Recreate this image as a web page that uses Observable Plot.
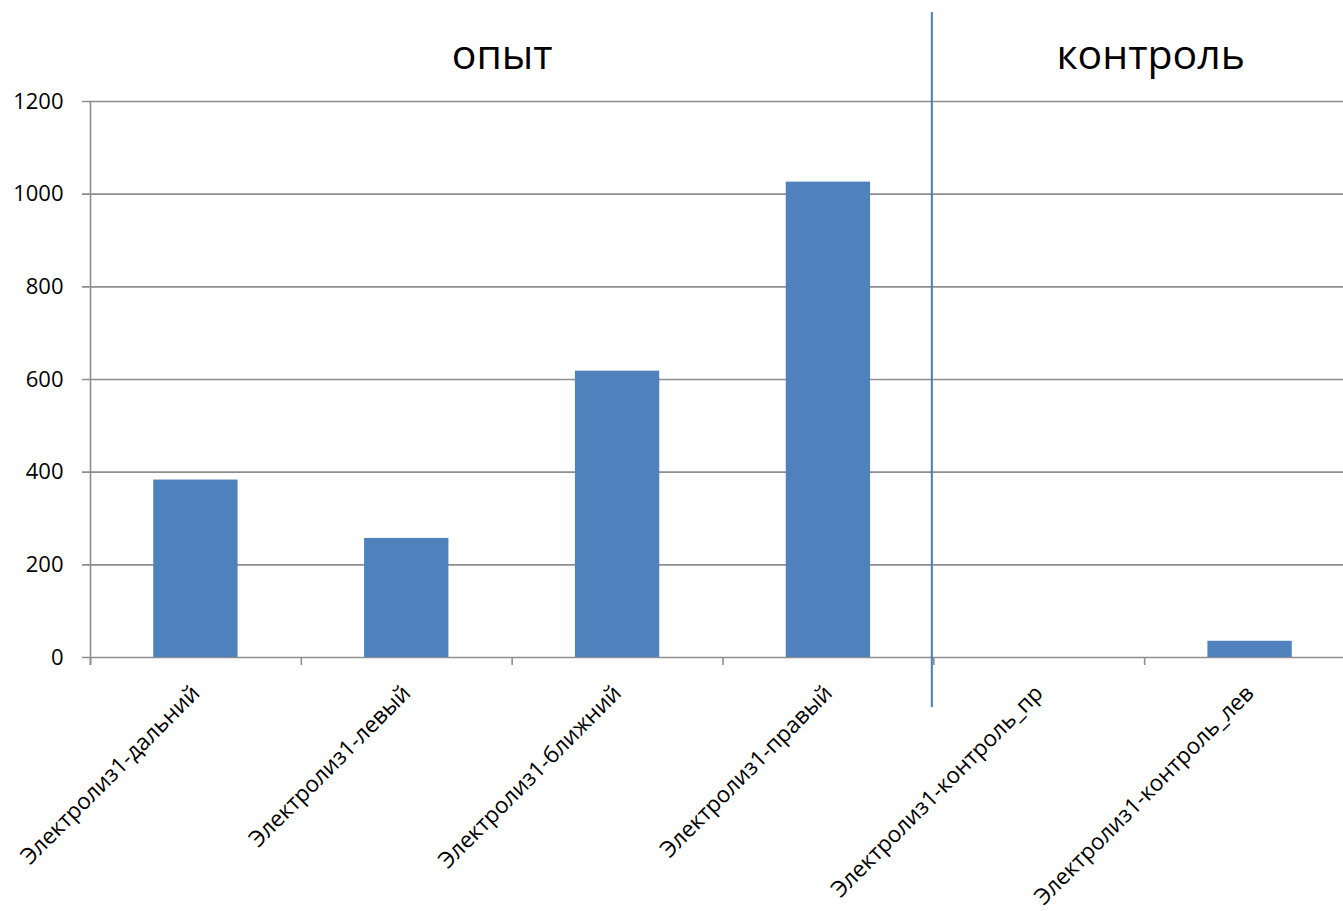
<!DOCTYPE html>
<html>
<head>
<meta charset="utf-8">
<script src="https://cdn.jsdelivr.net/npm/d3@7"></script>
<script src="https://cdn.jsdelivr.net/npm/@observablehq/plot@0.6"></script>
<style>
  html, body { margin: 0; padding: 0; background: #fff; overflow: hidden; }
  #chart svg { display: block; }
</style>
</head>
<body>
<div id="chart"></div>
<script>
// Data
const categories = [
  "Электролиз1-дальний",
  "Электролиз1-левый",
  "Электролиз1-ближний",
  "Электролиз1-правый",
  "Электролиз1-контроль_пр",
  "Электролиз1-контроль_лев"
];
const values = [383, 257, 618, 1026, 0, 35];
const yTicks = [0, 200, 400, 600, 800, 1000, 1200];
const groupLabels = ["опыт", "контроль"];
const groupCenters = [2, 5];       // category-index positions of the group titles
const groupBoundary = [4];         // index where the "контроль" group starts
const categoryEdges = [0, 1, 2, 3, 4, 5, 6];

const rows = categories.map((c, i) => ({category: c, index: i, value: values[i]}));
const groups = groupLabels.map((g, i) => ({label: g, pos: groupCenters[i]}));

const font = "'Open Sans', 'Noto Sans', 'DejaVu Sans', sans-serif";
const gray = "#8e8e8e";

const titleMark = (g, dx) => Plot.text([g], {
  x: "pos",
  frameAnchor: "top",
  lineAnchor: "middle",
  text: "label",
  dy: -46,
  dx,
  fontSize: 41,
  fill: "#000"
});

const chart = Plot.plot({
  width: 1343,
  height: 911,
  marginTop: 101,
  marginBottom: 254,
  marginLeft: 90,
  marginRight: 0,
  style: {fontFamily: font, background: "#fff", overflow: "visible"},
  x: {type: "linear", domain: [0, 6], range: [90, 1355], axis: null},
  y: {domain: [0, 1200], axis: null},
  marks: [
    // horizontal gridlines with left tick stubs
    Plot.ruleY(yTicks, {stroke: gray, strokeWidth: 1.6, insetLeft: -8}),
    // y tick labels
    Plot.axisY(yTicks, {tickSize: 0, tickPadding: 27, fontSize: 22, fill: "#000", label: null, tickFormat: d => String(d)}),
    // y axis line
    Plot.ruleX([0], {stroke: gray, strokeWidth: 1.6, insetBottom: -8}),
    // category boundary ticks
    Plot.axisX(categoryEdges, {anchor: "bottom", tickSize: 8, stroke: gray, strokeWidth: 1.6, label: null, tickFormat: () => ""}),
    // bars
    Plot.rectY(rows, {x1: d => d.index + 0.3, x2: d => d.index + 0.7, y: "value", fill: "#4f81bd"}),
    // category labels (rotated)
    Plot.text(rows, {
      x: d => d.index + 0.5,
      frameAnchor: "bottom",
      lineAnchor: "middle",
      text: "category",
      rotate: -45,
      textAnchor: "end",
      dx: 0,
      dy: 32,
      fontSize: 22.5,
      fill: "#000"
    }),
    // group separator
    Plot.ruleX(groupBoundary, {stroke: "#4a7ebb", strokeWidth: 2, dx: -2, insetTop: -89, insetBottom: -50}),
    // group titles
    titleMark(groups[0], -10),
    titleMark(groups[1], 6)
  ]
});

document.getElementById("chart").appendChild(chart);
</script>
</body>
</html>
